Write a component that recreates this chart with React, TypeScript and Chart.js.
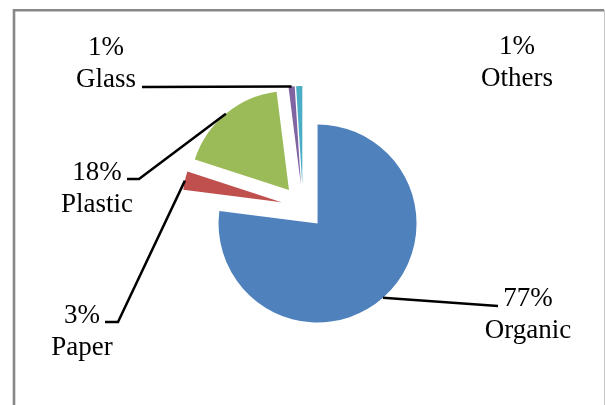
import { useEffect, useRef } from "react";
import { Chart, PieController, ArcElement } from "chart.js";

Chart.register(PieController, ArcElement);

// Composition of the waste stream (share in percent)
const categories = ["Organic", "Paper", "Plastic", "Glass", "Others"];
const shares = [77, 3, 18, 1, 1];
const sliceColors = ["#4F81BD", "#C0504D", "#9BBB59", "#8064A2", "#4BACC6"];

const total = shares.reduce((a, b) => a + b, 0);
const percentLabels = shares.map((v) => `${Math.round((v / total) * 100)}%`);

// Label layout: centre x and first-line baseline of each two-line label
const labelAnchors: [number, number][] = [
  [528, 306],
  [82, 323],
  [97, 180],
  [106, 55],
  [517, 54],
];
// Where each leader line leaves its label (null = no leader)
const leaderStarts: ([number, number] | null)[] = [
  [498, 306],
  [105, 322],
  [127, 179],
  [142, 87],
  null,
];
// Optional bend point between the label and the slice
const leaderElbows: ([number, number] | null)[] = [null, [118, 322], [139, 179], null, null];

const explodeDistance = 22;
const pieRadius = 99;
const labelFont = '27px "Liberation Serif", "Times New Roman", serif';
const lineGap = 32;

// Light grey frame around the chart area
const framePlugin = {
  id: "frame",
  beforeDraw(chart: Chart) {
    const { ctx } = chart;
    ctx.save();
    ctx.strokeStyle = "#878787";
    ctx.lineWidth = 2.6;
    ctx.beginPath();
    ctx.moveTo(14, 420);
    ctx.lineTo(14, 10.3);
    ctx.lineTo(604, 10.3);
    ctx.stroke();
    ctx.strokeStyle = "#c4c4c4";
    ctx.lineWidth = 1;
    ctx.beginPath();
    ctx.moveTo(604.5, 10);
    ctx.lineTo(604.5, 420);
    ctx.stroke();
    ctx.restore();
  },
};

// Draws every slice pushed outward along its bisector
const explodedSlices = {
  id: "explodedSlices",
  beforeDatasetDraw(chart: Chart, args: any) {
    const { ctx } = chart;
    for (const arc of args.meta.data) {
      const { startAngle, endAngle } = arc.getProps(["startAngle", "endAngle"], true);
      const mid = (startAngle + endAngle) / 2;
      ctx.save();
      ctx.translate(Math.cos(mid) * explodeDistance, Math.sin(mid) * explodeDistance);
      arc.draw(ctx, chart.chartArea);
      ctx.restore();
    }
    return false;
  },
};

// Percent + category labels with leader lines to the slice rims
const sliceLabels = {
  id: "sliceLabels",
  afterDatasetsDraw(chart: Chart) {
    const { ctx } = chart;
    const meta = chart.getDatasetMeta(0);
    ctx.save();
    ctx.strokeStyle = "#000";
    ctx.lineWidth = 2.5;
    ctx.lineJoin = "miter";
    meta.data.forEach((el: any, i: number) => {
      const start = leaderStarts[i];
      if (!start) return;
      const { x, y, startAngle, endAngle, outerRadius } = el.getProps(
        ["x", "y", "startAngle", "endAngle", "outerRadius"],
        true
      );
      const mid = (startAngle + endAngle) / 2;
      const reach = outerRadius + explodeDistance;
      const px = x + Math.cos(mid) * reach;
      const py = y + Math.sin(mid) * reach;
      ctx.beginPath();
      ctx.moveTo(start[0], start[1]);
      const elbow = leaderElbows[i];
      if (elbow) ctx.lineTo(elbow[0], elbow[1]);
      ctx.lineTo(px, py);
      ctx.stroke();
    });
    ctx.fillStyle = "#000";
    ctx.font = labelFont;
    ctx.textAlign = "center";
    ctx.textBaseline = "alphabetic";
    categories.forEach((name, i) => {
      const [cx, by] = labelAnchors[i];
      ctx.fillText(percentLabels[i], cx, by);
      ctx.fillText(name, cx, by + lineGap);
    });
    ctx.restore();
  },
};

export default function App() {
  const canvasRef = useRef<HTMLCanvasElement>(null);

  useEffect(() => {
    const canvas = canvasRef.current;
    if (!canvas) return;
    const chart = new Chart(canvas, {
      type: "pie",
      data: {
        labels: categories,
        datasets: [
          {
            data: shares,
            backgroundColor: sliceColors,
            borderWidth: 0,
            hoverOffset: 0,
            radius: pieRadius,
          } as any,
        ],
      },
      options: {
        responsive: false,
        animation: false,
        events: [],
        layout: { padding: { left: 100, right: 99, top: 50, bottom: 41 } },
      },
      plugins: [framePlugin, explodedSlices, sliceLabels],
    });
    return () => chart.destroy();
  }, []);

  return (
    <div
      style={{
        position: "fixed",
        left: 0,
        top: 0,
        width: 605,
        height: 405,
        background: "#fff",
      }}
    >
      <canvas ref={canvasRef} width={605} height={405} style={{ display: "block" }} />
    </div>
  );
}
